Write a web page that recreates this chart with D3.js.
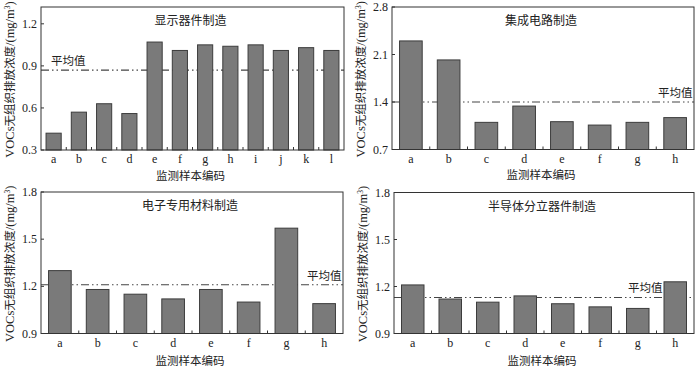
<!DOCTYPE html>
<html>
<head>
<meta charset="utf-8">
<script src="https://cdn.jsdelivr.net/npm/d3@7"></script>
<style>
  body { margin: 0; background: #fff; }
  svg { display: block; }
  .tick-num { font-family: "Liberation Serif", "DejaVu Serif", serif; font-size: 12px; fill: #222; }
  .cjk { font-family: "Noto Sans CJK SC", sans-serif; fill: #222; }
</style>
</head>
<body>
<div id="container"></div>
<script>
/* DATA */
const titles = ["显示器件制造", "集成电路制造", "电子专用材料制造", "半导体分立器件制造"];
const cats1 = ["a","b","c","d","e","f","g","h","i","j","k","l"];
const vals1 = [0.42, 0.57, 0.63, 0.56, 1.07, 1.01, 1.05, 1.04, 1.05, 1.01, 1.03, 1.01];
const cats2 = ["a","b","c","d","e","f","g","h"];
const vals2 = [2.30, 2.02, 1.10, 1.34, 1.11, 1.06, 1.10, 1.17];
const cats3 = ["a","b","c","d","e","f","g","h"];
const vals3 = [1.30, 1.18, 1.15, 1.12, 1.18, 1.10, 1.57, 1.09];
const cats4 = ["a","b","c","d","e","f","g","h"];
const vals4 = [1.21, 1.12, 1.10, 1.14, 1.09, 1.07, 1.06, 1.23];
const means = [0.87, 1.40, 1.21, 1.13];
const yTicks1 = [0.3, 0.6, 0.9, 1.2];
const yTicks2 = [0.7, 1.4, 2.1, 2.8];
const yTicks3 = [0.9, 1.2, 1.5, 1.8];
const yTicks4 = [0.9, 1.2, 1.5, 1.8];
const yDomains = [[0.3, 1.32], [0.7, 2.8], [0.9, 1.8], [0.9, 1.8]];

/* LAYOUT */
const W = 700, H = 367;
const panels = [
  {cats: cats1, vals: vals1, ticks: yTicks1, x0: 41,  x1: 344, y0: 7,   y1: 150,   xt: 29.5, meanLab: "left"},
  {cats: cats2, vals: vals2, ticks: yTicks2, x0: 392, x1: 694, y0: 7,   y1: 149.5, xt: 29.5, meanLab: "right"},
  {cats: cats3, vals: vals3, ticks: yTicks3, x0: 41,  x1: 343, y0: 192, y1: 333.5, xt: 31,   meanLab: "right"},
  {cats: cats4, vals: vals4, ticks: yTicks4, x0: 394, x1: 694, y0: 192.5, y1: 333.5, xt: 31, meanLab: "right2"}
];

const svg = d3.select("#container")
  .append("svg")
  .attr("width", W)
  .attr("height", H);

panels.forEach((p, i) => {
  const g = svg.append("g");

  const x = d3.scaleBand()
    .domain(p.cats)
    .range([p.x0, p.x1])
    .paddingInner(0.4)
    .paddingOuter(0.2);

  const y = d3.scaleLinear()
    .domain(yDomains[i])
    .range([p.y1, p.y0]);

  // mean line (behind bars)
  g.append("line")
    .attr("x1", p.x0).attr("x2", p.x1)
    .attr("y1", y(means[i])).attr("y2", y(means[i]))
    .attr("stroke", "#444")
    .attr("stroke-width", 1.1)
    .attr("stroke-dasharray", "8,3,1.5,3,1.5,3");

  // bars
  g.selectAll("rect.bar")
    .data(p.vals)
    .enter()
    .append("rect")
    .attr("class", "bar")
    .attr("x", (d, j) => x(p.cats[j]))
    .attr("y", d => y(d))
    .attr("width", x.bandwidth())
    .attr("height", d => p.y1 - y(d))
    .attr("fill", "#7a7a7a")
    .attr("stroke", "#3c3c3c")
    .attr("stroke-width", 1);

  // frame
  g.append("rect")
    .attr("x", p.x0).attr("y", p.y0)
    .attr("width", p.x1 - p.x0).attr("height", p.y1 - p.y0)
    .attr("fill", "none")
    .attr("stroke", "#333")
    .attr("stroke-width", 1);

  // x ticks (inward, at category boundaries)
  const step = x.step();
  p.cats.slice(1).forEach(c => {
    const tx = x(c) - step * 0.2;
    g.append("line")
      .attr("x1", tx).attr("x2", tx)
      .attr("y1", p.y1).attr("y2", p.y1 - 3)
      .attr("stroke", "#333");
  });

  // x tick labels
  g.selectAll("text.xl")
    .data(p.cats)
    .enter()
    .append("text")
    .attr("class", "tick-num")
    .attr("x", d => x(d) + x.bandwidth() / 2)
    .attr("y", p.y1 + 13)
    .attr("text-anchor", "middle")
    .text(d => d);

  // y ticks
  p.ticks.forEach(t => {
    g.append("line")
      .attr("x1", p.x0).attr("x2", p.x0 + 3)
      .attr("y1", y(t)).attr("y2", y(t))
      .attr("stroke", "#333");
    g.append("text")
      .attr("class", "tick-num")
      .attr("x", p.x0 - 4)
      .attr("y", y(t) + 4)
      .attr("text-anchor", "end")
      .text(t.toFixed(1));
  });

  // panel title
  g.append("text")
    .attr("class", "cjk")
    .attr("x", (p.x0 + p.x1) / 2 - 2)
    .attr("y", p.y0 + 18)
    .attr("text-anchor", "middle")
    .style("font-size", "12px")
    .text(titles[i]);

  // x axis title
  g.append("text")
    .attr("class", "cjk")
    .attr("x", (p.x0 + p.x1) / 2 - 2)
    .attr("y", p.y1 + p.xt)
    .attr("text-anchor", "middle")
    .style("font-size", "11.5px")
    .text("监测样本编码");

  // y axis title
  const yt = g.append("text")
    .attr("class", "cjk")
    .attr("transform", "translate(" + (p.x0 - 27) + "," + ((p.y0 + p.y1) / 2 + 1) + ") rotate(-90)")
    .attr("text-anchor", "middle")
    .style("font-size", "11.5px");
  yt.append("tspan").style("font-family", "'Liberation Serif', serif").style("font-size", "12.5px").text("VOCs");
  yt.append("tspan").text("无组织排放浓度");
  yt.append("tspan").style("font-family", "'Liberation Serif', serif").style("font-size", "12.5px").text("/(mg/m");
  yt.append("tspan").style("font-family", "'Liberation Serif', serif").style("font-size", "7.5px").attr("dy", -4).text("3");
  yt.append("tspan").style("font-family", "'Liberation Serif', serif").style("font-size", "12.5px").attr("dy", 4).text(")");

  // mean label
  let lx;
  if (p.meanLab === "left") lx = p.x0 + 10;
  else if (p.meanLab === "right") lx = p.x1 - 36;
  else lx = p.x1 - 66;
  g.append("text")
    .attr("class", "cjk")
    .attr("x", lx)
    .attr("y", y(means[i]) - 5)
    .style("font-size", "11.5px")
    .text("平均值");
});
</script>
</body>
</html>
